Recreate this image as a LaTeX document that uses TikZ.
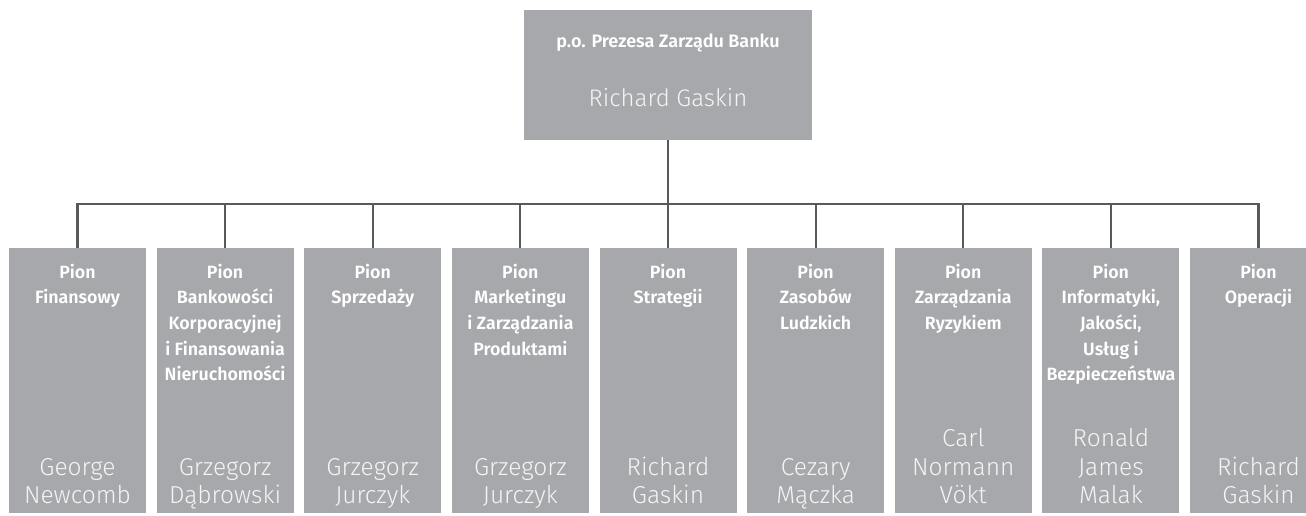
\documentclass[tikz,border=0pt]{standalone}
\usepackage{fontspec}
\setmainfont{Fira Sans}
\newfontfamily\headfont{Fira Sans SemiBold}
\newfontfamily\namefont{Fira Sans Light}
\definecolor{boxgray}{HTML}{A7A8AB}
\definecolor{linegray}{HTML}{58595B}
\definecolor{nametext}{HTML}{F4F4F4}

\begin{document}
\begin{tikzpicture}[x=1pt,y=-1pt,
  unitbox/.style={fill=boxgray, draw=none, inner sep=0pt, minimum width=137pt, minimum height=265pt},
  headbox/.style={fill=boxgray, draw=none, inner sep=0pt, minimum width=288pt, minimum height=130pt},
  title/.style={text=white, align=center, inner sep=0pt, anchor=north,
    font=\headfont\fontsize{17.8}{25.7}\selectfont},
  person/.style={text=nametext, align=center, inner sep=0pt, anchor=south,
    font=\namefont\fontsize{24.5}{28.5}\selectfont},
  link/.style={draw=linegray, line width=2.2pt}]

\useasboundingbox (0,0) rectangle (1306,515);
\clip (0,0) rectangle (1306,515);

% head of the bank
\node[headbox] (ceo) at (668,75) {};
\node[title, anchor=base, font=\headfont\fontsize{18}{22}\selectfont] (ceotitle) at (668,47) {p.o. Prezesa Zarządu Banku};
\node[person, anchor=base, font=\namefont\fontsize{24}{28}\selectfont] (ceoname) at (668,106) {Richard Gaskin};

% divisions
\node[unitbox] (b1) at (77.5,380.5) {};
\node[unitbox] (b2) at (225.125,380.5) {};
\node[unitbox] (b3) at (372.75,380.5) {};
\node[unitbox] (b4) at (520.375,380.5) {};
\node[unitbox] (b5) at (668,380.5) {};
\node[unitbox] (b6) at (815.625,380.5) {};
\node[unitbox] (b7) at (963.25,380.5) {};
\node[unitbox] (b8) at (1110.875,380.5) {};
\node[unitbox] (b9) at (1258.5,380.5) {};

\node[title] (t1) at (77.5,260) {\strut Pion\\Finansowy};
\node[title] (t2) at (225.125,260) {\strut Pion\\Bankowości\\Korporacyjnej\\i Finansowania\\Nieruchomości};
\node[title] (t3) at (372.75,260) {\strut Pion\\Sprzedaży};
\node[title] (t4) at (520.375,260) {\strut Pion\\Marketingu\\i Zarządzania\\Produktami};
\node[title] (t5) at (668,260) {\strut Pion\\Strategii};
\node[title] (t6) at (815.625,260) {\strut Pion\\Zasobów\\Ludzkich};
\node[title] (t7) at (963.25,260) {\strut Pion\\Zarządzania\\Ryzykiem};
\node[title] (t8) at (1110.875,260) {\strut Pion\\Informatyki,\\Jakości,\\Usług i\\Bezpieczeństwa};
\node[title] (t9) at (1258.5,260) {\strut Pion\\Operacji};

\node[person] (n1) at (77.5,512.5) {George\\Newcomb\strut};
\node[person] (n2) at (225.125,512.5) {Grzegorz\\Dąbrowski\strut};
\node[person] (n3) at (372.75,512.5) {Grzegorz\\Jurczyk\strut};
\node[person] (n4) at (520.375,512.5) {Grzegorz\\Jurczyk\strut};
\node[person] (n5) at (668,512.5) {Richard\\Gaskin\strut};
\node[person] (n6) at (815.625,512.5) {Cezary\\Mączka\strut};
\node[person] (n7) at (963.25,512.5) {Carl\\Normann\\Vökt\strut};
\node[person] (n8) at (1110.875,512.5) {Ronald\\James\\Malak\strut};
\node[person] (n9) at (1258.5,512.5) {Richard\\Gaskin\strut};

% reporting lines
\coordinate (bus) at (668,204);
\draw[link] (ceo.south) -- (b5.north);
\draw[link] (b1.north) |- (bus) -| (b9.north);
\foreach \i in {2,3,4,6,7,8}
  \draw[link] (b\i.north |- bus) -- (b\i.north);
\end{tikzpicture}
\end{document}
